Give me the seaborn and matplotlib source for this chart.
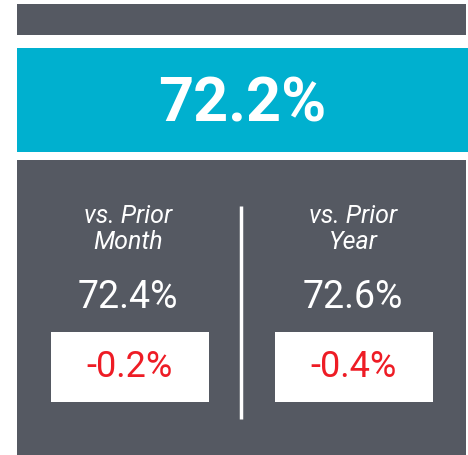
import matplotlib
matplotlib.use("Agg")
import matplotlib.pyplot as plt
import seaborn as sns
from matplotlib.patches import Rectangle

sns.set_theme(style="white")
plt.rcParams['font.family'] = ['Roboto', 'DejaVu Sans']

# Data
main_value = "72.2%"
column_titles = ["vs. Prior\nMonth", "vs. Prior\nYear"]
prior_values = ["72.4%", "72.6%"]
deltas = ["-0.2%", "-0.4%"]

GRAY = "#555962"
CYAN = "#00B0CF"
RED = "#EE1C25"

fig = plt.figure(figsize=(4.68, 4.55), dpi=100)
ax = fig.add_axes([0, 0, 1, 1])
ax.set_xlim(0, 468)
ax.set_ylim(455, 0)
ax.axis("off")

# top gray band
ax.add_patch(Rectangle((17, 4), 449, 31, color=GRAY, lw=0))
# cyan band
ax.add_patch(Rectangle((17, 48), 451, 104, color=CYAN, lw=0))
ax.text(242, 104, main_value, color="white", fontsize=44, fontweight="bold",
        ha="center", va="center")
# bottom panel
ax.add_patch(Rectangle((17, 160), 449, 300, color=GRAY, lw=0))
# divider
ax.plot([241, 241], [206, 419], color="white", lw=2.5, solid_capstyle="butt")

centers = [128, 353]
box_x = [51, 275]
for cx, bx, title, val, d in zip(centers, box_x, column_titles, prior_values, deltas):
    ax.text(cx, 229, title, color="white", fontsize=18, fontstyle="italic",
            ha="center", va="center", linespacing=1.1)
    ax.text(cx, 297, val, color="white", fontsize=27, ha="center", va="center")
    ax.add_patch(Rectangle((bx, 332), 158, 70, color="white", lw=0))
    ax.text(bx + 79, 367, d, color=RED, fontsize=26, ha="center", va="center")

fig.savefig("out.png", dpi=100, facecolor="white")
